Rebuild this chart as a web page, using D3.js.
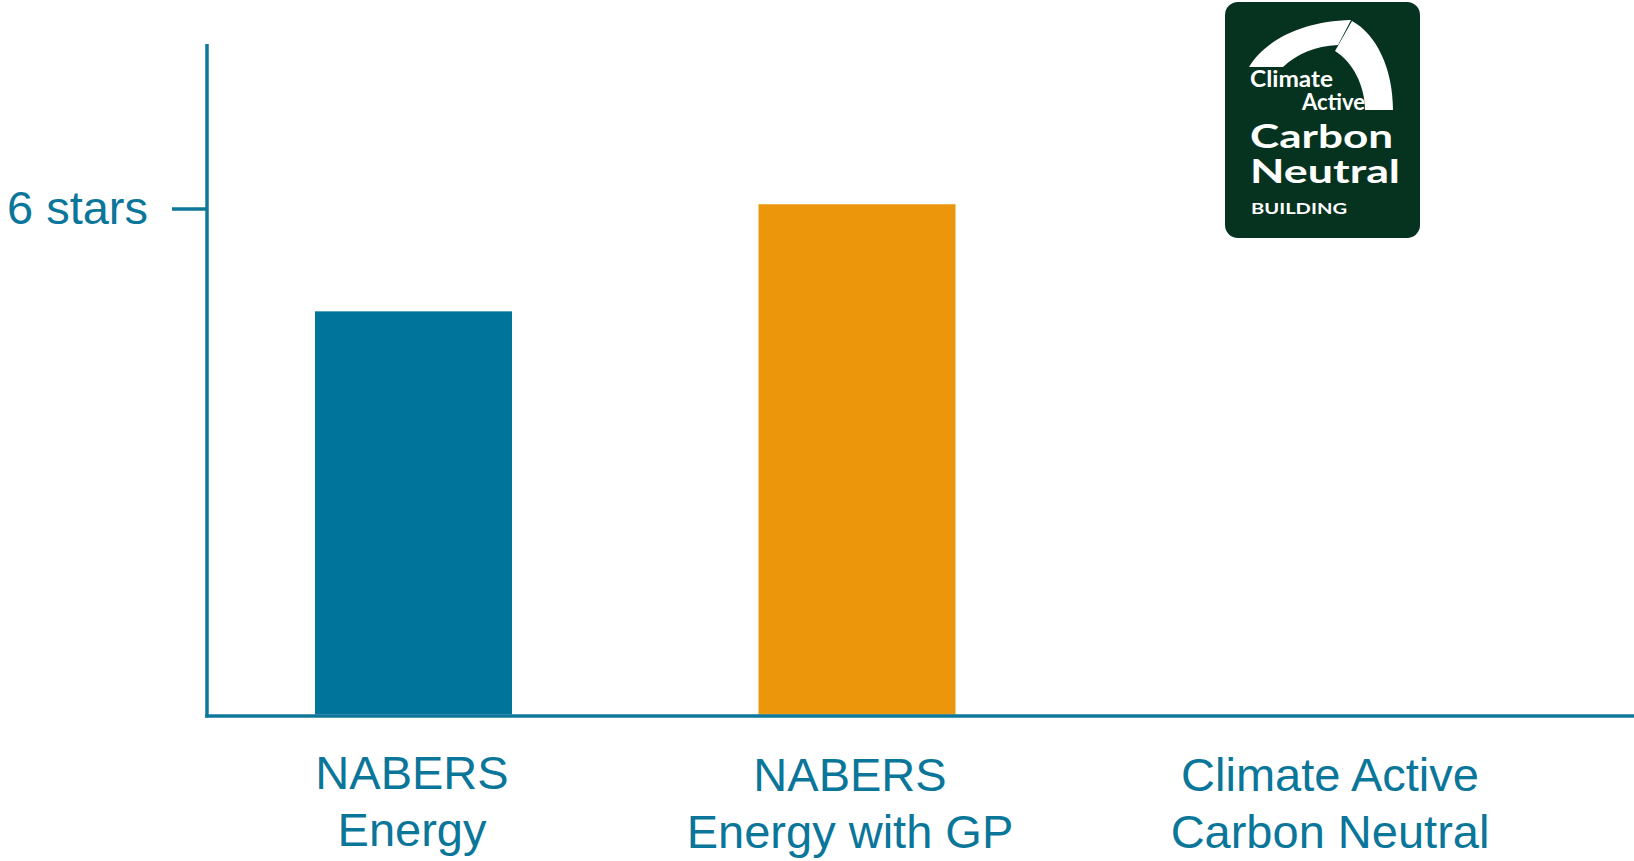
<!DOCTYPE html>
<html>
<head>
<meta charset="utf-8">
<script src="https://cdn.jsdelivr.net/npm/d3@7"></script>
<style>
  html, body { margin: 0; padding: 0; background: #ffffff; }
  svg { display: block; }
</style>
</head>
<body>
<svg id="chart" width="1634" height="861"></svg>
<script>
// ---- Data ----
const categories = ["NABERS Energy", "NABERS Energy with GP", "Climate Active Carbon Neutral"];
const categoryLines = [["NABERS", "Energy"], ["NABERS", "Energy with GP"], ["Climate Active", "Carbon Neutral"]];
const starValues = [4.78, 6.05, null];
const tickValues = [6];
const tickLabels = ["6 stars"];
const logoGroups = [["Climate", "Active"], ["Carbon", "Neutral"], ["BUILDING"]];

// ---- Styles ----
const W = 1634, H = 861;
const axisColor = "#0F789A";
const textColor = "#0A769A";
const barColors = ["#00749A", "#EC960C", "#000000"];
const logoGreen = "#05331F";
const labelShift = [-1.5, -7, 29.5];

const svg = d3.select("#chart");

const y = d3.scaleLinear().domain([0, 7.95]).range([714.5, 44]);
const x = d3.scaleBand()
  .domain(categories)
  .range([207, W])
  .paddingInner(0.5558)
  .paddingOuter(0.3867)
  .align(0.3149);

// Bars
svg.append("g").selectAll("rect")
  .data(categories.map((c, i) => ({ c, v: starValues[i], i })).filter(d => d.v != null))
  .join("rect")
  .attr("x", d => x(d.c))
  .attr("width", x.bandwidth())
  .attr("y", d => y(d.v))
  .attr("height", d => y(0) - y(d.v))
  .attr("fill", d => barColors[d.i]);

// Y axis
const yAxis = d3.axisLeft(y)
  .tickValues(tickValues)
  .tickFormat((d, i) => tickLabels[i])
  .tickSize(35)
  .tickPadding(24);
const gy = svg.append("g").attr("transform", "translate(207,0)").call(yAxis);
gy.select(".domain").remove();
gy.selectAll(".tick line").attr("stroke", axisColor).attr("stroke-width", 3.5);
gy.selectAll(".tick text")
  .attr("fill", textColor)
  .style("font-family", "'Liberation Sans', Arial, sans-serif")
  .style("font-size", "47px");
gy.append("line")
  .attr("x1", 0).attr("x2", 0)
  .attr("y1", y.range()[1]).attr("y2", y(0) + 3)
  .attr("stroke", axisColor).attr("stroke-width", 3.5);

// X axis
const xAxis = d3.axisBottom(x).tickSize(0).tickSizeOuter(0).tickFormat("");
const gx = svg.append("g").attr("transform", `translate(0,${y(0) + 1.5})`).call(xAxis);
gx.select(".domain").attr("stroke", axisColor).attr("stroke-width", 3.5)
  .attr("d", `M${207 - 1.75},0H${W}`);

// Category labels
const labels = svg.append("g")
  .style("font-family", "'Liberation Sans', Arial, sans-serif")
  .style("font-size", "47px")
  .attr("fill", textColor)
  .attr("text-anchor", "middle");
categories.forEach((c, i) => {
  const t = labels.append("text");
  categoryLines[i].forEach((line, j) => {
    t.append("tspan")
      .attr("x", x(c) + x.bandwidth() / 2 + labelShift[i])
      .attr("y", 789 + (i > 0 ? 2 : 0) + j * 57)
      .text(line);
  });
});

// Climate Active logo placed on the third category band
const lx = x(categories[2]) + x.bandwidth() / 2 - 75.5;
const logo = svg.append("g").attr("transform", `translate(${lx},0)`);
logo.append("rect")
  .attr("x", 0).attr("y", 2).attr("width", 195).attr("height", 236)
  .attr("rx", 13).attr("fill", logoGreen);
logo.append("path")
  .attr("d", "M24,67 C40,40 78,21 126,20 L113,45 C90,46 72,54 58,67 Z")
  .attr("fill", "#ffffff");
logo.append("path")
  .attr("d", "M127,21 C151,34 168,68 168,110 L140,110 C140,86 128,62 110,51 Z")
  .attr("fill", "#ffffff");
const logoText = logo.append("g")
  .attr("fill", "#ffffff")
  .style("font-family", "Lato, 'Open Sans', sans-serif")
  .style("font-weight", "700");
const logoSpecs = [
  [{ x: 25, y: 87, size: 22, len: 83 }, { x: 77, y: 110, size: 22, len: 63 }],
  [{ x: 25, y: 148, size: 33, len: 143 }, { x: 25, y: 183, size: 33, len: 150 }],
  [{ x: 26, y: 214, size: 14.5, len: 96 }]
];
logoGroups.forEach((grp, gi) => {
  const t = logoText.append("text");
  grp.forEach((s, j) => {
    const sp = logoSpecs[gi][j];
    t.append("tspan")
      .attr("x", sp.x).attr("y", sp.y)
      .style("font-size", sp.size + "px")
      .attr("textLength", sp.len)
      .attr("lengthAdjust", "spacingAndGlyphs")
      .text(s);
  });
});
</script>
</body>
</html>
